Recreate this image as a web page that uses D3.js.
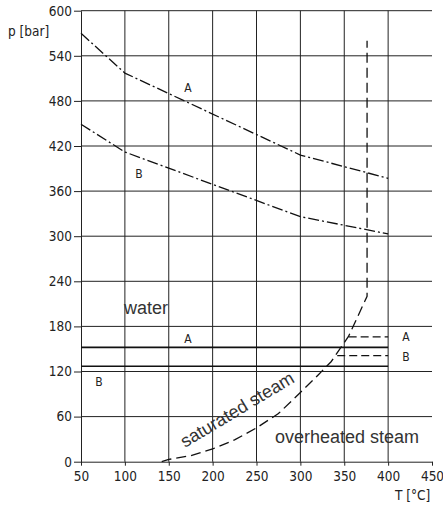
<!DOCTYPE html>
<html>
<head>
<meta charset="utf-8">
<script src="https://cdn.jsdelivr.net/npm/d3@7"></script>
<style>
    body{margin:0;background:#fff;}
    .tech{font-family:"Liberation Sans Narrow","DejaVu Sans Condensed","Liberation Sans",Arial,sans-serif;}
    .region{font-family:"Liberation Sans",Arial,sans-serif;font-size:18px;fill:#333;}
</style>
</head>
<body>
<svg id="chart" width="443" height="510"></svg>
<script>
"use strict";

//刻度
var xTicks = [50,100,150,200,250,300,350,400,450];
var yTicks = [0,60,120,180,240,300,360,420,480,540,600];
var xGrid = [100,150,200,250,300,350,400];
var yGrid = [60,120,180,240,300,360,420,480,540,600];

//点划线 A / B
var curveAT = [50,100,300,400];
var curveAP = [570,517,408,377];
var curveBT = [50,100,300,400];
var curveBP = [449,412,326,303];

//饱和蒸汽线
var satT = [142,150,175,200,225,250,275,300,320,335,355,376,376];
var satP = [0,3,8,17,29,45,64,92,115,133,167,220,560];

//实线 A / B
var solidT = [50,400];
var solidAP = [152,152];
var solidBP = [127,127];

//虚线 A / B
var dashAT = [355,400];
var dashAP = [166,166];
var dashBT = [342,400];
var dashBP = [141,141];

var svg = d3.select("#chart");

var x = d3.scaleLinear().domain([50,450]).range([81,432]);
var y = d3.scaleLinear().domain([0,600]).range([461.7,10.7]);

function pts(ts,ps){
    return ts.map(function(t,i){ return [t,ps[i]]; });
}

var line = d3.line()
    .x(function(d){ return x(d[0]); })
    .y(function(d){ return y(d[1]); });

//网格
var gGrid = svg.append("g").attr("class","grid");
gGrid.selectAll(".hgrid").data(yGrid).enter().append("line")
    .attr("x1",x(50)).attr("x2",x(450))
    .attr("y1",function(d){ return y(d); })
    .attr("y2",function(d){ return y(d); })
    .attr("stroke","#222").attr("stroke-width",1);
gGrid.selectAll(".vgrid").data(xGrid).enter().append("line")
    .attr("y1",y(0)).attr("y2",y(600))
    .attr("x1",function(d){ return x(d); })
    .attr("x2",function(d){ return x(d); })
    .attr("stroke","#222").attr("stroke-width",1);

//坐标轴
var gx = svg.append("g")
    .attr("class","tech")
    .attr("transform","translate(0,"+y(0)+")")
    .call(d3.axisBottom(x).tickValues(xTicks).tickSize(4).tickSizeOuter(0).tickPadding(6));
var gy = svg.append("g")
    .attr("class","tech")
    .attr("transform","translate("+x(50)+",0)")
    .call(d3.axisLeft(y).tickValues(yTicks).tickSize(7).tickSizeOuter(0).tickPadding(2));

[gx,gy].forEach(function(g){
    g.attr("font-family",null).attr("font-size",13.5);
    g.selectAll("path").attr("stroke","#222");
    g.selectAll("line").attr("stroke","#222");
    g.selectAll("text").attr("fill","#222");
});

//轴标题
svg.append("text").attr("class","tech")
    .attr("x",8).attr("y",36).attr("font-size",13.5).attr("fill","#222")
    .text("p [bar]");
svg.append("text").attr("class","tech")
    .attr("x",395).attr("y",500).attr("font-size",13.5).attr("fill","#222")
    .text("T [°C]");

//曲线
var gLines = svg.append("g").attr("fill","none");

gLines.append("path")
    .attr("d",line(pts(curveAT,curveAP)))
    .attr("stroke","#111").attr("stroke-width",1.3)
    .attr("stroke-dasharray","11,3,2,3");
gLines.append("path")
    .attr("d",line(pts(curveBT,curveBP)))
    .attr("stroke","#111").attr("stroke-width",1.3)
    .attr("stroke-dasharray","11,3,2,3");

gLines.append("path")
    .attr("d",line(pts(solidT,solidAP)))
    .attr("stroke","#111").attr("stroke-width",1.7);
gLines.append("path")
    .attr("d",line(pts(solidT,solidBP)))
    .attr("stroke","#111").attr("stroke-width",1.7);

gLines.append("path")
    .attr("d",line(pts(satT,satP)))
    .attr("stroke","#111").attr("stroke-width",1.3)
    .attr("stroke-dasharray","10,5");

gLines.append("path")
    .attr("d",line(pts(dashAT,dashAP)))
    .attr("stroke","#111").attr("stroke-width",1.3)
    .attr("stroke-dasharray","8,4");
gLines.append("path")
    .attr("d",line(pts(dashBT,dashBP)))
    .attr("stroke","#111").attr("stroke-width",1.3)
    .attr("stroke-dasharray","8,4");

//字母标注
var letters = [
    {t:"A",x:188,y:88},
    {t:"B",x:139,y:174},
    {t:"A",x:188,y:339},
    {t:"B",x:99,y:382},
    {t:"A",x:406,y:337},
    {t:"B",x:406,y:357}
];
svg.selectAll(".letter").data(letters).enter().append("text")
    .attr("class","tech")
    .attr("x",function(d){ return d.x; })
    .attr("y",function(d){ return d.y; })
    .attr("dy","0.35em")
    .attr("text-anchor","middle")
    .attr("font-size",12)
    .attr("fill","#222")
    .text(function(d){ return d.t; });

//区域文字
svg.append("text").attr("class","region").attr("x",124).attr("y",314).text("water");
svg.append("text").attr("class","region").attr("x",275).attr("y",443).text("overheated steam");
svg.append("text").attr("class","region")
    .attr("transform","translate(185,448) rotate(-31)")
    .text("saturated steam");
</script>
</body>
</html>
